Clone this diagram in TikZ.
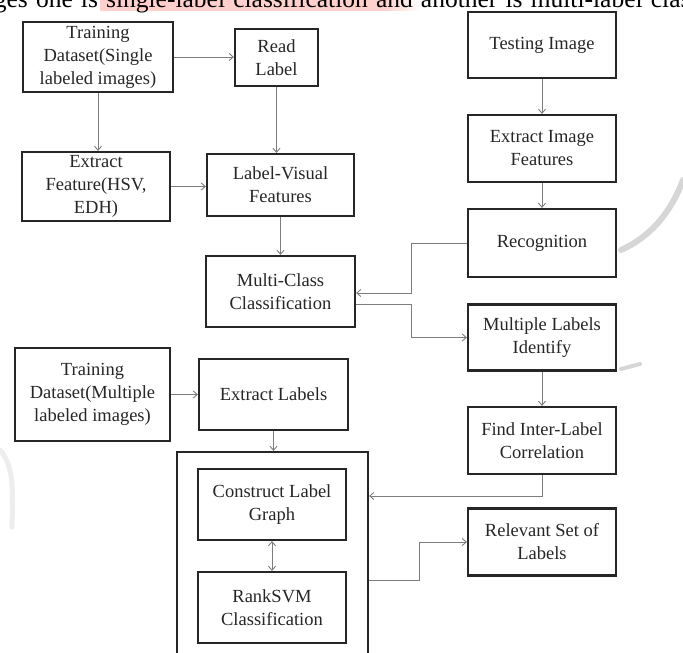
\documentclass[tikz,border=0pt]{standalone}
\usepackage{fontspec}
\setmainfont{Liberation Serif}
\usetikzlibrary{calc}
\usetikzlibrary{arrows.meta}
\definecolor{hlpink}{RGB}{255,208,204}
\definecolor{inkc}{RGB}{38,38,38}
\definecolor{linkc}{RGB}{125,125,125}
\tikzset{
  stage/.style={draw=inkc, line width=2.2pt, text=inkc, align=center, inner sep=0pt,
    minimum width=148pt, minimum height=67pt, font=\fontsize{18.5}{23}\selectfont},
  flow/.style={draw=linkc, line width=0.9pt, >={Straight Barb[length=4pt,width=7pt]}, ->},
  wmark/.style={draw=black!16, line width=6pt, line cap=round}
}

\begin{document}
\begin{tikzpicture}[x=1pt,y=-1pt]
\useasboundingbox (0,0) rectangle (683,653);
\clip (0,0) rectangle (683,653);
\fill[hlpink] (100,-2) rectangle (385,10.5);
\shade[left color=hlpink, right color=white] (385,-2) rectangle (420,10.5);
\draw (-44.6,7.5) node[anchor=base west, inner sep=0pt, font=\fontsize{25.5}{30}\selectfont](hdr){\spaceskip=0.32em\relax images one is single-label classification and another is multi-label classification};
\draw[wmark] (683,180) .. controls (670,215) and (648,238) .. (621,250);
\draw[wmark, line width=4pt] (621,369) -- (640,364);
\draw[wmark, draw=black!7, line width=5pt] (0,450) .. controls (14,466) and (13,490) .. (12,527);

\draw (98,57) node[stage,minimum width=150pt,minimum height=70pt](trs){Training\\Dataset(Single\\labeled images)};
\draw (276.5,57.5) node[stage,minimum width=83pt,minimum height=57pt](rdl){Read\\Label};
\draw (542,45) node[stage,minimum height=66pt](tst){Testing Image};
\draw (96,186.5) node[stage,minimum height=69pt](exf){Extract\\Feature(HSV,\\EDH)};
\draw (280.5,185) node[stage,minimum width=147pt,minimum height=62pt](lvf){Label-Visual\\Features};
\draw (542,148.5) node[stage](eif){Extract Image\\Features};
\draw (542,243) node[stage,minimum height=68pt](rec){Recognition};
\draw (280.5,291.5) node[stage,minimum width=149pt,minimum height=71pt](mcc){Multi-Class\\Classification};
\draw (542,337.5) node[stage,minimum height=66pt](mli){Multiple Labels\\Identify};
\draw (92.5,394.5) node[stage,minimum width=155pt,minimum height=93pt](trm){Training\\Dataset(Multiple\\labeled images)};
\draw (273.5,394.5) node[stage,minimum width=149pt,minimum height=71pt](exl){Extract Labels};
\draw (542,440.5) node[stage](fil){Find Inter-Label\\Correlation};
\draw (272.5,564) node[stage,minimum width=191pt,minimum height=224pt](grp){};
\draw (272,504.5) node[stage,minimum height=71pt](clg){Construct Label\\Graph};
\draw (272,607.5) node[stage,minimum height=71pt](rsv){RankSVM\\Classification};
\draw (542,542) node[stage](rsl){Relevant Set of\\Labels};

\draw[flow] (trs.east) -- (trs.east -| rdl.west);
\draw[flow] (trs.south) -- (trs.south |- exf.north);
\draw[flow] (rdl.south) -- (rdl.south |- lvf.north);
\draw[flow] (exf.east) -- (exf.east -| lvf.west);
\draw[flow] (lvf.south) -- (lvf.south |- mcc.north);
\draw[flow] (tst) -- (eif);
\draw[flow] (eif) -- (rec);
\draw[flow] (rec.west) -- ++(-55,0) |- ([yshift=-1.5pt]mcc.east);
\draw[flow] ([yshift=-12.5pt]mcc.east) -- ++(55,0) |- (mli.west);
\draw[flow] (trm.east) -- (trm.east -| exl.west);
\draw[flow] (exl.south) -- (exl.south |- grp.north);
\draw[flow] (mli) -- (fil);
\draw[flow] (fil.south) |- ([yshift=68pt]grp.east);
\draw[flow] ([yshift=-16pt]grp.east) -- ++(50,0) |- (rsl.west);
\draw[flow,<->] (clg) -- (rsv);
\end{tikzpicture}
\end{document}
